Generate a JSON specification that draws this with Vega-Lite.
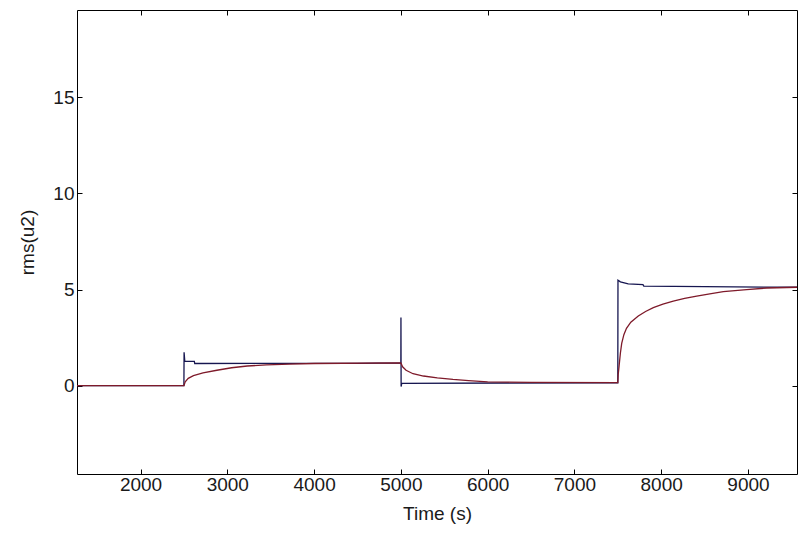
{
  "$schema": "https://vega.github.io/schema/vega-lite/v6.json",
  "width": 720,
  "height": 464,
  "autosize": {"type": "none"},
  "padding": {"left": 77, "top": 10, "right": 1, "bottom": 64},
  "background": "white",
  "config": {
    "view": {"stroke": null},
    "axis": {
      "grid": false,
      "domainColor": "#000000",
      "domainWidth": 1,
      "tickColor": "#000000",
      "tickWidth": 1,
      "tickSize": -5,
      "labelFont": "Liberation Sans",
      "labelFontSize": 19,
      "labelColor": "#1a1a1a",
      "titleFont": "Liberation Sans",
      "titleFontSize": 19,
      "titleFontWeight": "normal",
      "titleColor": "#1a1a1a"
    }
  },
  "data": {
    "values": [
      {"s": "a", "i": 1, "t": 1268, "v": 0},
      {"s": "a", "i": 2, "t": 2500, "v": 0},
      {"s": "a", "i": 3, "t": 2502, "v": 1.74},
      {"s": "a", "i": 4, "t": 2510, "v": 1.26},
      {"s": "a", "i": 5, "t": 2620, "v": 1.26},
      {"s": "a", "i": 6, "t": 2625, "v": 1.15},
      {"s": "a", "i": 7, "t": 4500, "v": 1.16},
      {"s": "a", "i": 8, "t": 5000, "v": 1.18},
      {"s": "a", "i": 9, "t": 5001, "v": 3.55},
      {"s": "a", "i": 10, "t": 5003, "v": -0.05},
      {"s": "a", "i": 11, "t": 5010, "v": 0.12},
      {"s": "a", "i": 12, "t": 7500, "v": 0.15},
      {"s": "a", "i": 13, "t": 7502, "v": 5.49},
      {"s": "a", "i": 14, "t": 7530, "v": 5.4},
      {"s": "a", "i": 15, "t": 7620, "v": 5.3},
      {"s": "a", "i": 16, "t": 7790, "v": 5.26},
      {"s": "a", "i": 17, "t": 7800, "v": 5.18},
      {"s": "a", "i": 18, "t": 8500, "v": 5.15},
      {"s": "a", "i": 19, "t": 9565, "v": 5.12},
      {"s": "b", "i": 1, "t": 1268, "v": 0},
      {"s": "b", "i": 2, "t": 2500, "v": 0},
      {"s": "b", "i": 3, "t": 2515, "v": 0.2},
      {"s": "b", "i": 4, "t": 2550, "v": 0.38},
      {"s": "b", "i": 5, "t": 2610, "v": 0.52},
      {"s": "b", "i": 6, "t": 2720, "v": 0.66},
      {"s": "b", "i": 7, "t": 2880, "v": 0.8},
      {"s": "b", "i": 8, "t": 3050, "v": 0.93},
      {"s": "b", "i": 9, "t": 3230, "v": 1.02},
      {"s": "b", "i": 10, "t": 3450, "v": 1.08},
      {"s": "b", "i": 11, "t": 3720, "v": 1.12},
      {"s": "b", "i": 12, "t": 4000, "v": 1.15},
      {"s": "b", "i": 13, "t": 5000, "v": 1.18},
      {"s": "b", "i": 14, "t": 5020, "v": 0.98},
      {"s": "b", "i": 15, "t": 5060, "v": 0.8},
      {"s": "b", "i": 16, "t": 5140, "v": 0.62},
      {"s": "b", "i": 17, "t": 5260, "v": 0.5},
      {"s": "b", "i": 18, "t": 5420, "v": 0.4},
      {"s": "b", "i": 19, "t": 5600, "v": 0.32},
      {"s": "b", "i": 20, "t": 5780, "v": 0.26},
      {"s": "b", "i": 21, "t": 6000, "v": 0.2},
      {"s": "b", "i": 22, "t": 6500, "v": 0.17},
      {"s": "b", "i": 23, "t": 7500, "v": 0.16},
      {"s": "b", "i": 24, "t": 7505, "v": 0.6},
      {"s": "b", "i": 25, "t": 7515, "v": 1.03},
      {"s": "b", "i": 26, "t": 7530, "v": 1.7},
      {"s": "b", "i": 27, "t": 7545, "v": 2.2},
      {"s": "b", "i": 28, "t": 7570, "v": 2.65},
      {"s": "b", "i": 29, "t": 7600, "v": 2.98},
      {"s": "b", "i": 30, "t": 7650, "v": 3.3},
      {"s": "b", "i": 31, "t": 7736, "v": 3.62},
      {"s": "b", "i": 32, "t": 7820, "v": 3.86},
      {"s": "b", "i": 33, "t": 7909, "v": 4.06},
      {"s": "b", "i": 34, "t": 8020, "v": 4.24},
      {"s": "b", "i": 35, "t": 8139, "v": 4.4},
      {"s": "b", "i": 36, "t": 8270, "v": 4.54},
      {"s": "b", "i": 37, "t": 8409, "v": 4.66},
      {"s": "b", "i": 38, "t": 8560, "v": 4.78},
      {"s": "b", "i": 39, "t": 8716, "v": 4.89},
      {"s": "b", "i": 40, "t": 8985, "v": 5.0},
      {"s": "b", "i": 41, "t": 9216, "v": 5.08},
      {"s": "b", "i": 42, "t": 9565, "v": 5.12}
    ]
  },
  "layer": [
    {
      "mark": {"type": "line", "strokeWidth": 1.3, "clip": true},
      "encoding": {
        "x": {
          "field": "t", "type": "quantitative",
          "scale": {"domain": [1268, 9565], "nice": false, "zero": false},
          "axis": {"orient": "bottom", "title": "Time (s)", "values": [2000, 3000, 4000, 5000, 6000, 7000, 8000, 9000], "format": "d", "labelPadding": 6, "titlePadding": 10}
        },
        "y": {
          "field": "v", "type": "quantitative",
          "scale": {"domain": [-4.6, 19.55], "nice": false, "zero": false},
          "axis": {"orient": "left", "title": "rms(u2)", "values": [0, 5, 10, 15], "labelPadding": 8, "titlePadding": 15}
        },
        "color": {
          "field": "s", "type": "nominal",
          "scale": {"domain": ["a", "b"], "range": ["#161650", "#7e1a2a"]},
          "legend": null
        },
        "order": {"field": "i", "type": "quantitative"}
      }
    },
    {
      "mark": {"type": "point", "opacity": 0},
      "encoding": {
        "x": {
          "field": "t", "type": "quantitative",
          "scale": {"domain": [1268, 9565], "nice": false, "zero": false},
          "axis": {"orient": "top", "title": null, "labels": false, "values": [2000, 3000, 4000, 5000, 6000, 7000, 8000, 9000]}
        },
        "y": {
          "field": "v", "type": "quantitative",
          "scale": {"domain": [-4.6, 19.55], "nice": false, "zero": false},
          "axis": {"orient": "right", "title": null, "labels": false, "values": [0, 5, 10, 15]}
        }
      }
    }
  ],
  "resolve": {"axis": {"x": "independent", "y": "independent"}}
}
